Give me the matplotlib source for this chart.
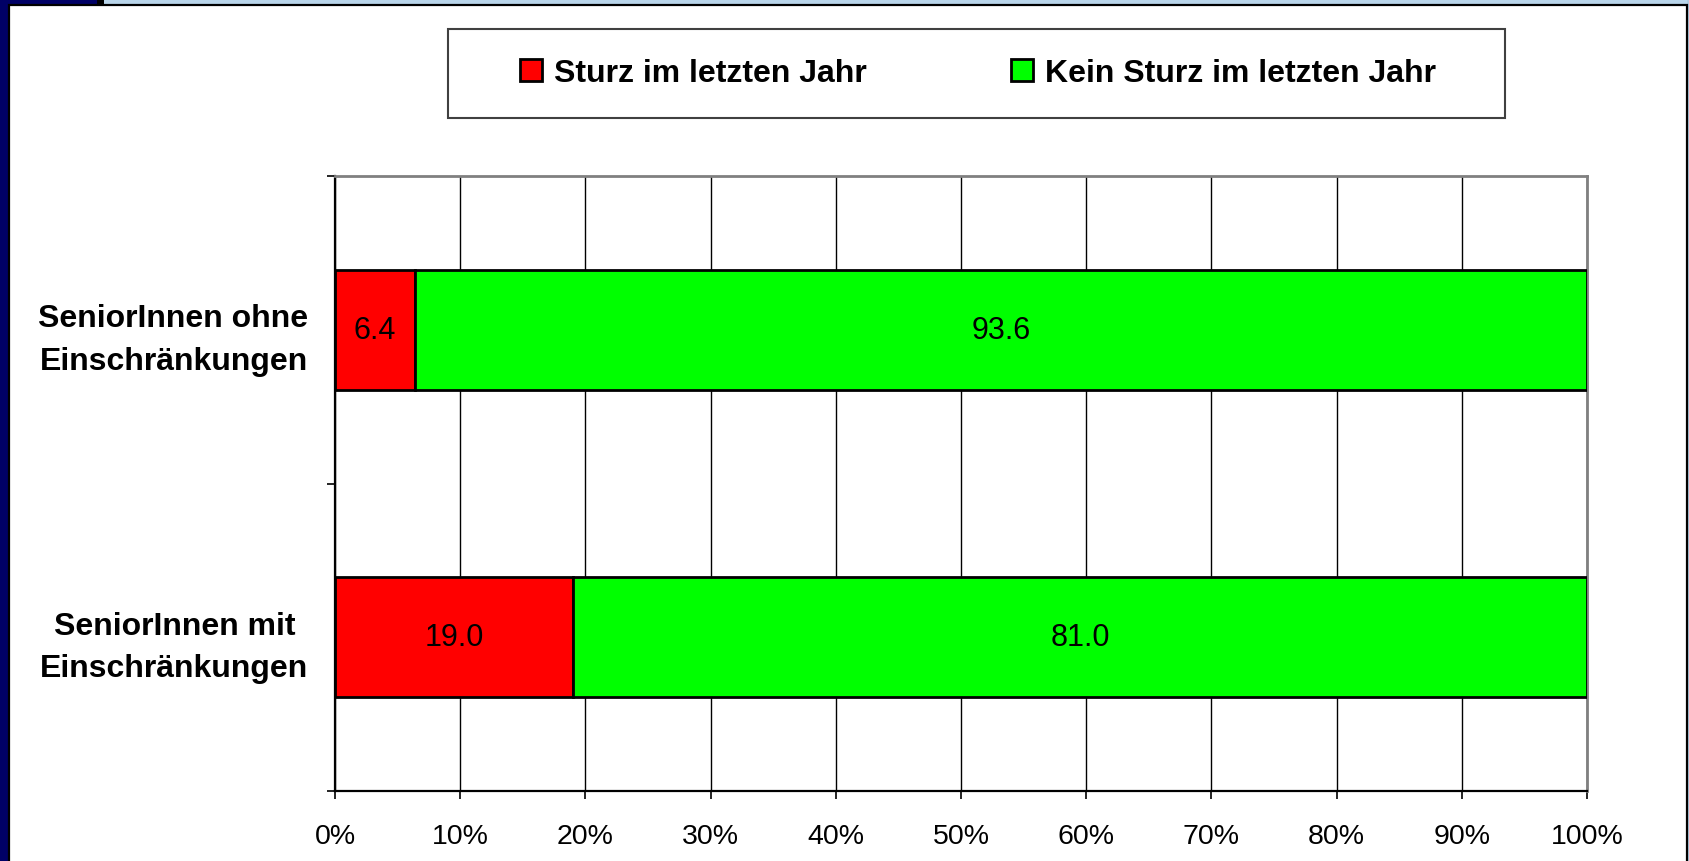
import matplotlib
matplotlib.use("Agg")
import matplotlib.pyplot as plt
from matplotlib.patches import Rectangle

plt.rcParams["font.family"] = ["Liberation Sans", "DejaVu Sans"]

W, H = 1690, 862

categories = ["SeniorInnen ohne\nEinschränkungen", "SeniorInnen mit\nEinschränkungen"]
sturz = [6.4, 19.0]
kein_sturz = [93.6, 81.0]
series_names = ["Sturz im letzten Jahr", "Kein Sturz im letzten Jahr"]
xticks = list(range(0, 101, 10))


def frect(fig, x0, y0, x1, y1, **kw):
    # rectangle in pixel coords (origin top-left)
    r = Rectangle((x0 / W, 1 - y1 / H), (x1 - x0) / W, (y1 - y0) / H,
                  transform=fig.transFigure, **kw)
    fig.add_artist(r)
    return r


fig = plt.figure(figsize=(W / 100, H / 100), dpi=100, facecolor="white")

# slide frame around the chart
frect(fig, 0, 0, 9, H, facecolor="#000066", edgecolor="none", zorder=0)
frect(fig, 0, 0, 97, 6, facecolor="#000066", edgecolor="none", zorder=0)
frect(fig, 97, 0, 104, 6, facecolor="black", edgecolor="none", zorder=0)
frect(fig, 104, 0, W, 6, facecolor="#b9d5ea", edgecolor="none", zorder=0)
frect(fig, 1687, 0, W, H, facecolor="#b0cce0", edgecolor="none", zorder=0)
frect(fig, 9, 6, 1687, H + 5, facecolor="white", edgecolor="black", lw=1.6, zorder=0.5)

ax = fig.add_axes([335 / W, 1 - 792 / H, (1587 - 335) / W, (792 - 177) / H])
ax.set_zorder(2)

y = list(range(len(categories)))
bar_h = 0.39
b1 = ax.barh(y, sturz, height=bar_h, color="#ff0000", edgecolor="black", lw=2,
             label=series_names[0], zorder=3)
b2 = ax.barh(y, kein_sturz, left=sturz, height=bar_h, color="#00ff00", edgecolor="black",
             lw=2, label=series_names[1], zorder=3)

for i in y:
    ax.text(sturz[i] / 2, i, f"{sturz[i]:.1f}", ha="center", va="center", fontsize=22, zorder=4)
    ax.text(sturz[i] + kein_sturz[i] / 2, i, f"{kein_sturz[i]:.1f}", ha="center", va="center",
            fontsize=22, zorder=4)

ax.set_xlim(0, 100)
ax.set_ylim(len(categories) - 0.5, -0.5)
ax.set_xticks(xticks)
ax.set_xticklabels([f"{v}%" for v in xticks], fontsize=20.5)
ax.tick_params(axis="x", direction="out", length=6, width=1.2, pad=17)
ax.xaxis.grid(True, color="black", lw=1)
ax.set_axisbelow(True)

ax.set_yticks(y)
ax.set_yticklabels(categories, fontsize=23, fontweight="bold", linespacing=1.55)
for lab in ax.get_yticklabels():
    lab.set_multialignment("center")
ax.set_yticks([-0.5, 0.5, 1.5], minor=True)
ax.tick_params(axis="y", which="major", length=0, pad=19)
ax.tick_params(axis="y", which="minor", direction="out", length=6, width=1.2)

for s in ["top", "right"]:
    ax.spines[s].set_color("#808080")
    ax.spines[s].set_linewidth(2)
for s in ["left", "bottom"]:
    ax.spines[s].set_color("black")
    ax.spines[s].set_linewidth(1.6)

# legend box
frect(fig, 448, 30, 1505, 119, facecolor="white", edgecolor="#404040", lw=1.5, zorder=1)
fig.legend(handles=[b1, b2], labels=series_names, loc="center", ncol=2,
           bbox_to_anchor=(978 / W, 1 - 74 / H), frameon=False,
           prop={"weight": "bold", "size": 23}, handlelength=0.69, handleheight=0.66,
           handletextpad=0.37, columnspacing=4.5)

fig.savefig("out.png", dpi=100, facecolor=fig.get_facecolor())
